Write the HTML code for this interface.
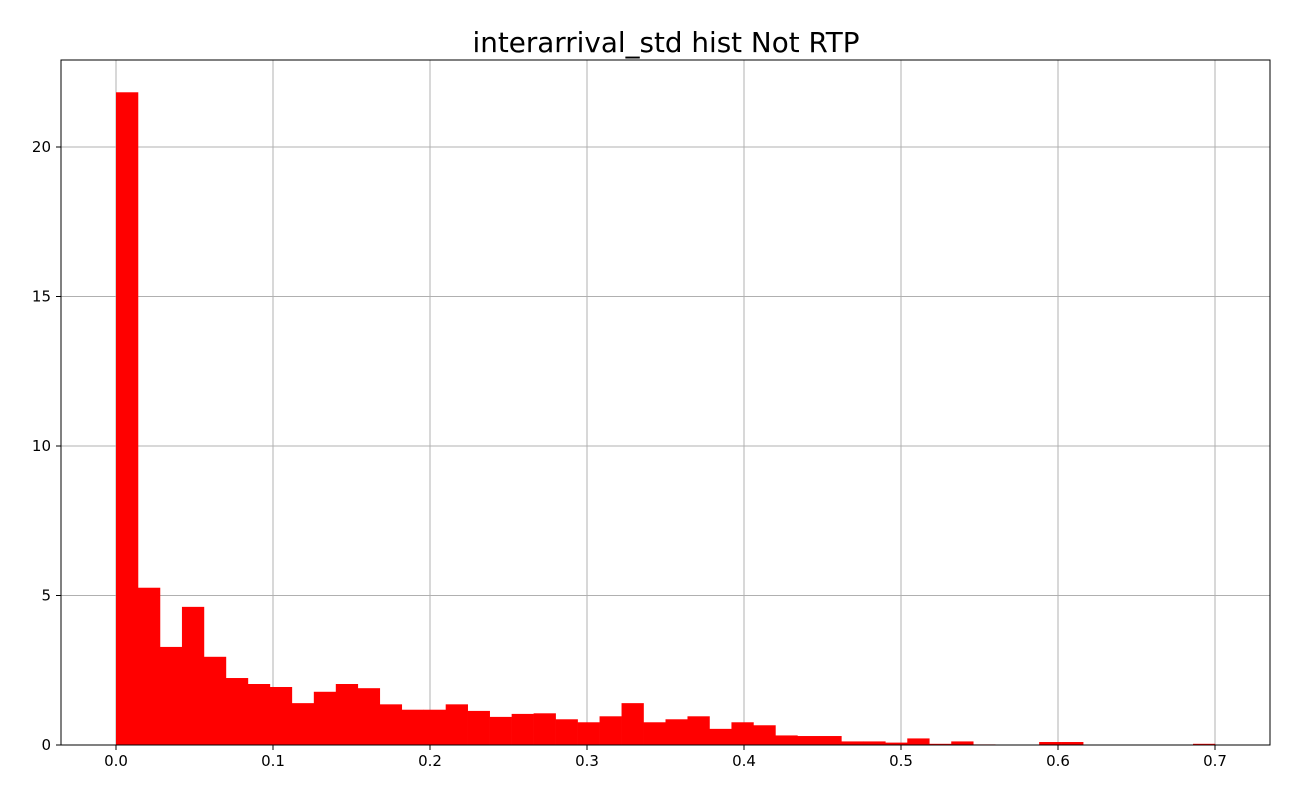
<!DOCTYPE html>
<html><head><meta charset="utf-8"><style>
body{margin:0;background:#fff;font-family:"DejaVu Sans","Liberation Sans",sans-serif}
</style></head><body>
<svg id="c" width="1300" height="800">
<text x="666" y="52" font-size="27.8" text-anchor="middle">interarrival_std hist Not RTP</text>
<g id="grid"></g><g id="bars"></g><g id="axes"></g>
</svg>
<script>
const binStart=0, binWidth=0.014;
const counts=[21.83,5.26,3.28,4.62,2.95,2.24,2.04,1.94,1.40,1.78,2.04,1.90,1.36,1.18,1.18,1.36,1.14,0.94,1.04,1.06,0.86,0.76,0.96,1.40,0.76,0.86,0.96,0.54,0.76,0.66,0.32,0.30,0.30,0.12,0.12,0.08,0.22,0.04,0.12,0.02,0,0,0.1,0.1,0,0,0,0,0,0.04];
const xTicks=[0,0.1,0.2,0.3,0.4,0.5,0.6,0.7];
const xTickLabels=["0.0","0.1","0.2","0.3","0.4","0.5","0.6","0.7"];
const yTicks=[0,5,10,15,20];
const L=61,R=1270,T=60,B=745;
const xs=v=>116+v*1570;
const ys=v=>745-v*29.9;
const NS="http://www.w3.org/2000/svg";
function mk(t,a,p){const e=document.createElementNS(NS,t);for(const k in a)e.setAttribute(k,a[k]);p.appendChild(e);return e;}
const grid=document.getElementById('grid'),bars=document.getElementById('bars'),axes=document.getElementById('axes');
xTicks.forEach((v,i)=>{
 const g=mk('line',{x1:xs(v),x2:xs(v),y1:T,y2:B,stroke:'#b0b0b0','stroke-width':1},grid);
 
 
 mk('line',{x1:xs(v),x2:xs(v),y1:B,y2:B+5,stroke:'#000'},axes);
 const t=mk('text',{x:xs(v),y:B+21,'font-size':15,'text-anchor':'middle'},axes);t.textContent=xTickLabels[i];
 
 
});
yTicks.forEach(v=>{
 const g=mk('line',{x1:L,x2:R,y1:ys(v),y2:ys(v),stroke:'#b0b0b0','stroke-width':1},grid);
 
 
 mk('line',{x1:L-5,x2:L,y1:ys(v),y2:ys(v),stroke:'#000'},axes);
 const t=mk('text',{x:L-10,y:ys(v)+5,'font-size':15,'text-anchor':'end'},axes);t.textContent=String(v);
 
 
});
counts.forEach((c,i)=>{
 if(c<=0)return;
 const x0=xs(binStart+i*binWidth),x1=xs(binStart+(i+1)*binWidth);
 const r=mk('rect',{x:x0,y:ys(c),width:x1-x0+0.3,height:ys(0)-ys(c),fill:'#ff0000'},bars);
 
 
});
const f=mk('rect',{x:L,y:T,width:R-L,height:B-T,fill:'none',stroke:'#000','stroke-width':1},axes);


</script>
</body></html>
